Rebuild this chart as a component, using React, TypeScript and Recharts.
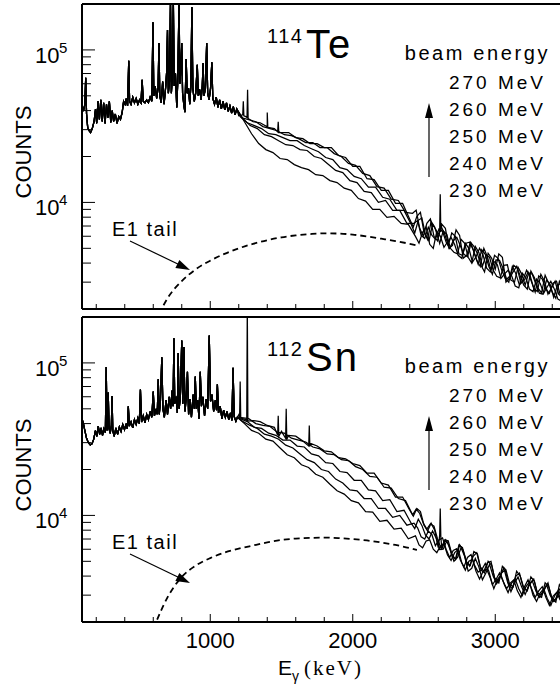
import { LineChart, Line, XAxis, YAxis } from 'recharts';

const FONT = '"Liberation Sans", Arial, Helvetica, sans-serif';
const SERIF = '"Liberation Serif", "Times New Roman", serif';

const BEAM_ENERGIES = ['270 MeV', '260 MeV', '250 MeV', '240 MeV', '230 MeV'];
// each beam-energy spectrum was read on its own staggered grid (keV offset)
const GRID_OFFSETS = [0, 20, 10, 30, 40];
const X_TICKS = [200, 400, 600, 800, 1000, 1200, 1400, 1600, 1800, 2000, 2200, 2400, 2600, 2800, 3000, 3200, 3400];
const Y_TICKS = [3000, 4000, 5000, 6000, 7000, 8000, 9000, 10000, 20000, 30000, 40000, 50000, 60000, 70000, 80000, 90000, 100000];

// energy grid (keV) for the part where the beam energies split apart
const HIGH_E = [
  1200, 1250, 1300, 1350, 1400, 1450, 1500, 1550, 1600, 1650, 1700, 1750, 1800, 1850, 1900, 1950,
  2000, 2050, 2100, 2150, 2200, 2250, 2300, 2350, 2400, 2450, 2500, 2550, 2600, 2650, 2700, 2750,
  2800, 2850, 2900, 2950, 3000, 3050, 3100, 3150, 3200, 3250, 3300, 3350, 3400, 3450, 3500,
];
// extra in-between readings in the noisy high-energy band
const MID_E = [
  2425, 2475, 2525, 2575, 2625, 2675, 2725, 2775, 2825, 2875, 2925,
  2975, 3025, 3075, 3125, 3175, 3225, 3275, 3325, 3375, 3425, 3475,
];

// ---- 114Te ----
const TE_LOW_E = [
  100, 112, 120, 126, 132, 140, 150, 160, 172, 185, 195, 203, 212, 222, 232, 242, 252, 262, 272, 282,
  292, 302, 312, 322, 334, 346, 358, 370, 382, 392, 402, 410, 420, 428, 434, 444, 456, 468, 480, 492,
  504, 514, 522, 530, 542, 554, 566, 578, 590, 598, 604, 614, 624, 634, 640, 646, 656, 666, 676, 688,
  694, 700, 706, 714, 721, 727, 734, 741, 747, 756, 765, 772, 781, 787, 794, 800, 806, 814, 822, 831,
  838, 848, 856, 864, 871, 878, 888, 898, 909, 916, 926, 936, 944, 950, 956, 966, 975, 982, 992, 1002,
  1011, 1018, 1030, 1042, 1054, 1066, 1078, 1090, 1102, 1114, 1126, 1138, 1150, 1162, 1174, 1186,
];
const TE_LOW = [
  43000, 40500, 44000, 65600, 38000, 31000, 29500, 28700, 30500, 34000, 41000, 33000, 46000, 35000, 47000, 34000, 45000, 33000, 44000, 36000,
  46000, 33500, 40000, 34000, 38000, 33000, 36500, 35000, 39000, 46000, 44000, 48000, 43000, 84800, 46000, 44000, 49000, 45000, 48000, 44000,
  47000, 45000, 63800, 46000, 45000, 47000, 45000, 49000, 46000, 152000, 50000, 58000, 48000, 56000, 111000, 50000, 45000, 62000, 44000, 58000,
  72000, 135000, 52000, 62000, 210000, 52000, 66000, 210000, 58000, 70000, 42000, 62000, 210000, 60000, 75000, 111000, 52000, 44000, 39000, 87000,
  52000, 56000, 44000, 58000, 191000, 56000, 46000, 52000, 80000, 50000, 55000, 47000, 58000, 82000, 50000, 56000, 111000, 52000, 47000, 56000,
  83000, 48000, 44000, 49000, 42000, 47000, 41000, 46000, 40500, 45000, 39500, 43000, 38500, 42500, 37500, 41000,
];
const TE_270 = [37000, 36500, 33800, 33300, 30900, 30500, 28700, 28700, 26600, 26200, 24300, 24300, 22900, 22900, 20300, 19700, 17200, 17200, 14300, 14100, 12000, 12000, 9850, 9850, 7760, 8100, 6370, 7510, 5810, 6760, 5230, 6080, 4500, 5150, 3870, 4640, 3650, 4370, 3180, 3810, 2870, 3540, 2740, 3330, 2580, 3040, 2420];
const TE_260 = [35900, 34900, 33800, 31400, 30500, 29500, 27800, 27400, 26200, 24700, 24700, 22900, 22900, 20900, 20000, 18000, 17500, 15500, 15000, 12700, 12400, 10500, 10300, 8600, 8480, 6760, 7290, 5990, 6970, 5230, 5990, 4500, 5480, 4170, 5000, 3590, 4300, 3180, 3810, 2870, 3590, 2740, 3380, 2500, 3040, 2390, 2870];
const TE_250 = [36500, 33300, 31900, 30500, 28200, 27800, 26600, 25400, 25400, 23600, 22500, 21500, 19700, 19100, 16900, 16400, 14800, 14300, 12600, 12600, 10800, 10500, 8870, 8870, 7180, 7630, 6170, 7180, 5390, 6170, 4710, 5730, 4370, 5150, 3810, 4370, 3280, 3870, 3090, 3760, 2870, 3380, 2540, 3090, 2390, 2950, 2280];
const TE_240 = [35400, 31900, 30500, 27800, 27000, 25400, 23900, 23600, 22200, 21900, 20000, 19400, 17700, 16200, 15700, 13900, 13500, 11800, 11600, 10000, 10300, 8870, 8870, 7290, 7290, 6080, 6870, 5730, 6470, 5000, 5900, 4570, 5390, 3930, 4570, 3380, 4170, 3140, 3870, 2950, 3490, 2580, 3140, 2540, 3040, 2280, 2740];
const TE_230 = [33800, 28200, 24300, 22200, 21200, 19400, 19100, 17700, 16900, 16400, 15200, 15000, 13900, 13500, 12400, 12000, 10600, 10200, 9010, 9010, 7980, 8100, 7290, 7180, 5990, 6370, 5310, 6470, 5080, 5900, 4500, 5390, 4050, 5000, 3700, 4110, 3180, 3590, 2830, 3430, 2700, 3140, 2540, 3040, 2320, 2870, 2220];
const TE_270_MID = [6900, 8600, 5700, 6900, 7200, 5000, 6600, 4300, 5500, 4600, 3500, 4300, 4600, 3000, 3500, 3300, 2700, 3200, 2550, 2950, 2350, 2750];
const TE_260_MID = [8900, 6000, 7800, 5600, 6200, 6300, 4600, 5400, 4900, 3800, 4400, 4500, 3600, 3000, 3400, 3100, 3300, 2600, 3050, 2750, 2500, 2600];
const TE_250_MID = [6300, 7900, 5600, 6600, 6500, 5000, 4600, 5400, 4000, 4700, 4500, 3600, 3200, 3900, 3000, 3400, 3450, 2900, 2500, 2900, 2850, 2350];
const TE_240_MID = [7600, 5800, 6100, 6700, 5500, 5600, 5200, 4400, 4600, 4900, 3800, 4200, 3700, 3300, 3700, 3100, 3000, 3300, 2700, 2950, 2500, 2450];
const TE_230_MID = [5400, 6900, 5000, 6000, 5500, 5300, 4300, 5000, 4400, 4500, 3500, 3900, 3400, 3300, 2750, 3200, 2600, 2950, 2800, 2700, 2250, 2600];
const TE_SPIKE_E = [1228, 1232, 1236, 1258, 1262, 1266, 1396, 1400, 1404, 1473, 1477, 1481, 2610, 2614, 2618];
const TE_SPIKE = [37500, 46000, 37000, 36000, 54800, 35500, 31500, 38800, 31000, 29000, 33800, 28800, 6500, 11300, 6400];
const TE_E1_E = [640, 700, 800, 900, 1000, 1100, 1200, 1300, 1400, 1500, 1600, 1700, 1800, 1900, 2000, 2100, 2200, 2300, 2400, 2450];
const TE_E1 = [1850, 2350, 3050, 3650, 4150, 4600, 5000, 5350, 5650, 5900, 6080, 6200, 6270, 6250, 6150, 5980, 5780, 5580, 5350, 5230];

// ---- 112Sn ----
const SN_LOW_E = [
  100, 110, 120, 132, 145, 158, 170, 182, 194, 204, 214, 224, 234, 244, 254, 264, 270, 276, 284, 290,
  298, 306, 311, 316, 326, 338, 350, 362, 374, 386, 398, 410, 418, 425, 432, 444, 456, 468, 480, 492,
  502, 510, 518, 530, 542, 554, 566, 578, 590, 600, 608, 620, 628, 635, 642, 650, 660, 668, 678, 690,
  700, 712, 722, 732, 739, 745, 751, 762, 769, 775, 782, 790, 800, 807, 815, 823, 832, 840, 848, 858,
  868, 880, 888, 895, 902, 912, 921, 930, 938, 948, 960, 972, 982, 993, 1002, 1012, 1024, 1036, 1044, 1050,
  1058, 1070, 1082, 1094, 1106, 1118, 1130, 1142, 1152, 1160, 1168, 1180, 1190,
];
const SN_LOW = [
  43000, 40000, 36000, 32000, 30000, 29000, 29500, 31500, 36000, 33000, 38500, 34000, 37500, 33500, 37000, 35000, 94000, 36000, 64000, 37000,
  34500, 39000, 60600, 36000, 33000, 37500, 34000, 38000, 35500, 39500, 36500, 40000, 37000, 52000, 38500, 41000, 37500, 42500, 39500, 43500,
  40000, 67000, 41000, 45000, 40500, 46000, 42500, 48000, 44000, 65000, 45000, 50000, 46000, 78000, 46000, 55000, 109000, 50000, 44000, 57000,
  46000, 60000, 50000, 66000, 52000, 145000, 54000, 60000, 47000, 116000, 50000, 60000, 140000, 54000, 127000, 48000, 60000, 87600, 46000, 58000,
  44000, 62000, 50000, 81300, 50000, 57000, 43000, 87600, 52000, 60000, 45000, 58000, 50000, 151000, 56000, 62000, 48000, 57000, 49000, 72300,
  47000, 52000, 43000, 49000, 44000, 48000, 42500, 47000, 42000, 92900, 44500, 41500, 44000,
];
const SN_270 = [45700, 42500, 41900, 41200, 38900, 37800, 35600, 33500, 33100, 30700, 29800, 28500, 26500, 26100, 23900, 23500, 21900, 21200, 18900, 18900, 16300, 15800, 13200, 13200, 10800, 11100, 8630, 8890, 6140, 6920, 5300, 6420, 4930, 5790, 4380, 5000, 3720, 4640, 3560, 4310, 3360, 3950, 2980, 3610, 2810, 3510, 2730];
const SN_260 = [43800, 43100, 40000, 38900, 38300, 35100, 34600, 32100, 31200, 30300, 28100, 27300, 25300, 25000, 23200, 22900, 20900, 20000, 18000, 17800, 15300, 15100, 12900, 12500, 10100, 10300, 8130, 8500, 6050, 6810, 5150, 6140, 4640, 5700, 4310, 5000, 3660, 4380, 3310, 4190, 3210, 3830, 3030, 3610, 2770, 3460, 2690];
const SN_250 = [43100, 41200, 37800, 37200, 34600, 33500, 31200, 31200, 28500, 28100, 25300, 24600, 22200, 21900, 19400, 19100, 17000, 17000, 14700, 14500, 12500, 12700, 10600, 10800, 8890, 9430, 7450, 7900, 5970, 6810, 5000, 6140, 4310, 5220, 3780, 4780, 3560, 4510, 3160, 3950, 3030, 3720, 2900, 3510, 2730, 3260, 2610];
const SN_240 = [41200, 38900, 37200, 34100, 33100, 31600, 28900, 27700, 25300, 23200, 22200, 20000, 19400, 17300, 16300, 14700, 14500, 12900, 12900, 11100, 11100, 9710, 9990, 8630, 8890, 7230, 7900, 6330, 7120, 5300, 6050, 4580, 5540, 4250, 4850, 3510, 4190, 3310, 3780, 2900, 3780, 2900, 3410, 2570, 3120, 2570, 3070];
const SN_230 = [40000, 36100, 34600, 31600, 30700, 27700, 25000, 23900, 21500, 20600, 18600, 17800, 16000, 14500, 13800, 12500, 12100, 10600, 10500, 9150, 9290, 8130, 8250, 7020, 7340, 6140, 6920, 5700, 6520, 5070, 5970, 4380, 5150, 3830, 4440, 3310, 4060, 3120, 3830, 2980, 3660, 2730, 3310, 2570, 3210, 2460, 2940];
const SN_270_MID = [9900, 10600, 7900, 8000, 6000, 6400, 5200, 5900, 4700, 5600, 4200, 4700, 3600, 4400, 3400, 4000, 3200, 3700, 2900, 3400, 2700, 3200];
const SN_260_MID = [11000, 8900, 8800, 7000, 6900, 5600, 6400, 5000, 5400, 4600, 4900, 3900, 4200, 3500, 4000, 3400, 3600, 3100, 3300, 2900, 3200, 2850];
const SN_250_MID = [8200, 8600, 7000, 7100, 6000, 5900, 5300, 5400, 4500, 4600, 4200, 4000, 4000, 3700, 3600, 3400, 3450, 3200, 3100, 3000, 2900, 2850];
const SN_240_MID = [8300, 7000, 7500, 6900, 6000, 5900, 5100, 5300, 4700, 4400, 4300, 3800, 3700, 3600, 3200, 3400, 3300, 3200, 2900, 2950, 2800, 2700];
const SN_230_MID = [6400, 6800, 6000, 6300, 5500, 5700, 4900, 5000, 4300, 4300, 3900, 3800, 3500, 3600, 3300, 3400, 3000, 3100, 2850, 2950, 2650, 2750];
const SN_SPIKE_E = [1206, 1210, 1214, 1256, 1260, 1264, 1473, 1477, 1481, 1529, 1533, 1537, 1691, 1695, 1699, 2610, 2614, 2618];
const SN_SPIKE = [44000, 75500, 43500, 42000, 250000, 41500, 33500, 45000, 33000, 32000, 50000, 31500, 28500, 38900, 28300, 7400, 11100, 7300];
const SN_E1_E = [600, 700, 800, 900, 1000, 1100, 1200, 1300, 1400, 1500, 1600, 1700, 1800, 1900, 2000, 2100, 2200, 2300, 2400, 2450];
const SN_E1 = [1800, 2900, 3950, 4700, 5250, 5700, 6050, 6350, 6650, 6900, 7050, 7120, 7150, 7100, 7000, 6850, 6650, 6400, 6100, 5930];

type Pt = { e: number; n: number };

const toPoints = (es: number[], ns: number[]): Pt[] => es.map((e, i) => ({ e, n: ns[i] }));

function buildCurves(
  lowE: number[],
  low: number[],
  highs: number[][],
  mids: number[][],
  spikeE: number[],
  spike: number[],
) {
  const lowPts = toPoints(lowE, low);
  return highs.map((h, i) => {
    const off = GRID_OFFSETS[i];
    const pts = [
      ...lowPts,
      ...toPoints(HIGH_E.map((e) => e + off), h),
      ...toPoints(MID_E.map((e) => e + off), mids[i]),
    ];
    // narrow gamma lines are drawn on the top curve only
    if (i === 0) pts.push(...toPoints(spikeE, spike));
    return pts.sort((a, b) => a.e - b.e);
  });
}

const TE_CURVES = buildCurves(
  TE_LOW_E, TE_LOW,
  [TE_270, TE_260, TE_250, TE_240, TE_230],
  [TE_270_MID, TE_260_MID, TE_250_MID, TE_240_MID, TE_230_MID],
  TE_SPIKE_E, TE_SPIKE,
);
const SN_CURVES = buildCurves(
  SN_LOW_E, SN_LOW,
  [SN_270, SN_260, SN_250, SN_240, SN_230],
  [SN_270_MID, SN_260_MID, SN_250_MID, SN_240_MID, SN_230_MID],
  SN_SPIKE_E, SN_SPIKE,
);

const PLOT_LEFT = 82;
const PLOT_H = 305;
const Y_AXIS_W = 50;
const X_AXIS_H = 30;

interface PanelProps {
  top: number;
  height: number;
  plotTop: number;
  curves: Pt[][];
  e1: Pt[];
  showLabels: boolean;
}

function Panel({ top, height, plotTop, curves, e1, showLabels }: PanelProps) {
  const plotBottom = plotTop + PLOT_H;

  const xTick = (props: any) => {
    const { x, payload } = props;
    const v = payload.value as number;
    const major = v % 1000 === 0;
    return (
      <g>
        <line x1={x} x2={x} y1={plotBottom} y2={plotBottom - (major ? 8 : 5)} stroke="#000" strokeWidth={1} />
        {showLabels && major && (
          <text x={x} y={plotBottom + 26} textAnchor="middle" fontSize={22} fontFamily={FONT} fill="#000">
            {v}
          </text>
        )}
      </g>
    );
  };

  const yTick = (props: any) => {
    const { y, payload } = props;
    const v = payload.value as number;
    const major = v === 10000 || v === 100000;
    return (
      <g>
        <line x1={PLOT_LEFT} x2={PLOT_LEFT + (major ? 13 : 9)} y1={y} y2={y} stroke="#000" strokeWidth={1} />
        {major && (
          <>
            <text x={35} y={y + 13} fontSize={22} fontFamily={FONT} fill="#000">10</text>
            <text x={59} y={y + 3} fontSize={15} fontFamily={FONT} fill="#000">{v === 10000 ? 4 : 5}</text>
          </>
        )}
      </g>
    );
  };

  return (
    <div style={{ position: 'absolute', left: 0, top, width: 600, height }}>
      <LineChart
        width={600}
        height={height}
        margin={{ top: plotTop - 1, right: 33.5, bottom: height - plotBottom - X_AXIS_H, left: PLOT_LEFT - Y_AXIS_W }}
      >
        <XAxis
          type="number"
          dataKey="e"
          domain={[100, 3500]}
          ticks={X_TICKS}
          interval={0}
          allowDataOverflow
          height={X_AXIS_H}
          axisLine={{ stroke: '#000', strokeWidth: 2 }}
          tickLine={false}
          tick={xTick}
        />
        <XAxis
          xAxisId="frame"
          orientation="top"
          type="number"
          dataKey="e"
          domain={[100, 3500]}
          allowDataOverflow
          height={1}
          tick={false}
          tickLine={false}
          axisLine={{ stroke: '#000', strokeWidth: 2 }}
        />
        <YAxis
          type="number"
          scale="log"
          domain={[2000, 200000]}
          ticks={Y_TICKS}
          interval={0}
          allowDataOverflow
          width={Y_AXIS_W}
          axisLine={{ stroke: '#000', strokeWidth: 2 }}
          tickLine={false}
          tick={yTick}
        />
        <Line
          data={e1}
          dataKey="n"
          type="monotone"
          stroke="#000"
          strokeWidth={1.8}
          strokeDasharray="6 4"
          dot={false}
          activeDot={false}
          isAnimationActive={false}
        />
        {curves.map((pts, i) => (
          <Line
            key={BEAM_ENERGIES[i]}
            data={pts}
            dataKey="n"
            type="linear"
            stroke="#000"
            strokeWidth={1.25}
            dot={false}
            activeDot={false}
            isAnimationActive={false}
          />
        ))}
      </LineChart>
    </div>
  );
}

function Annotations({ dy, mass, element }: { dy: number; mass: string; element: string }) {
  return (
    <g fontFamily={FONT} fill="#000">
      <text
        x={23}
        y={152 + dy}
        transform={`rotate(-90 23 ${152 + dy})`}
        textAnchor="middle"
        dominantBaseline="central"
        fontSize={22}
      >
        COUNTS
      </text>
      <text x={267} y={43 + dy} fontSize={20} letterSpacing={1.5}>{mass}</text>
      <text x={306} y={58 + dy} fontSize={40} letterSpacing={2}>{element}</text>
      <text x={550} y={60 + dy} textAnchor="end" fontSize={20} letterSpacing={2.6}>beam energy</text>
      {BEAM_ENERGIES.map((b, i) => (
        <text key={b} x={546} y={89 + dy + i * 27} textAnchor="end" fontSize={19} letterSpacing={3}>
          {b}
        </text>
      ))}
      <line x1={429} x2={429} y1={177 + dy} y2={114 + dy} stroke="#000" strokeWidth={1.2} />
      <polygon points={`429,${103 + dy} 425,${118 + dy} 433,${118 + dy}`} fill="#000" />
      <text x={112} y={236 + dy} fontSize={20} letterSpacing={1.5}>E1 tail</text>
      <line x1={130} y1={241 + dy} x2={182} y2={266 + dy} stroke="#000" strokeWidth={1.2} />
      <polygon points={`190,${270 + dy} 179.4,${260 + dy} 175.4,${268 + dy}`} fill="#000" />
    </g>
  );
}

export default function App() {
  return (
    <div style={{ position: 'absolute', left: 0, top: 0, width: 560, height: 685, overflow: 'hidden', background: '#fff' }}>
      <Panel top={0} height={345} plotTop={4} curves={TE_CURVES} e1={toPoints(TE_E1_E, TE_E1)} showLabels={false} />
      <Panel top={312} height={373} plotTop={5} curves={SN_CURVES} e1={toPoints(SN_E1_E, SN_E1)} showLabels />
      <svg width={560} height={685} style={{ position: 'absolute', left: 0, top: 0, pointerEvents: 'none' }}>
        <Annotations dy={0} mass="114" element="Te" />
        <Annotations dy={313} mass="112" element="Sn" />
        <text x={278} y={675} fontFamily={FONT} fontSize={21} fill="#000">E</text>
        <text x={292} y={681} fontFamily={FONT} fontSize={14} fill="#000">γ</text>
        <text x={304} y={675} fontFamily={SERIF} fontSize={21} letterSpacing={2} fill="#000">(keV)</text>
      </svg>
    </div>
  );
}
